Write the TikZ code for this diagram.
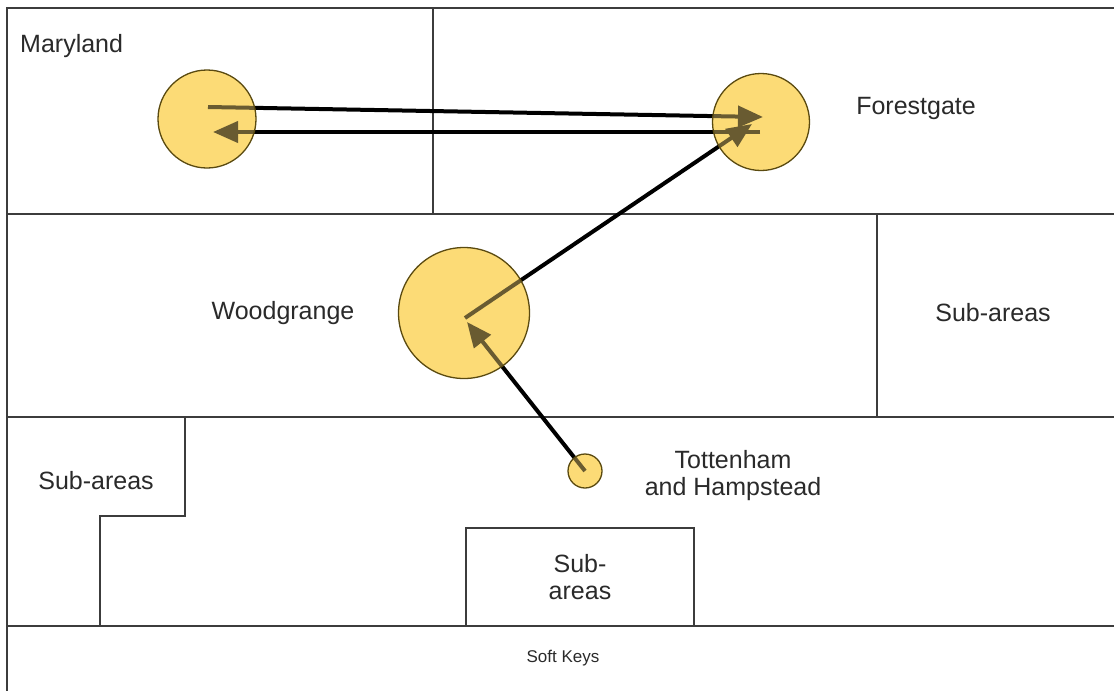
\documentclass[tikz,border=0pt]{standalone}
\usepackage{fontspec}
\setmainfont{Liberation Sans}
\usetikzlibrary{arrows.meta}
\definecolor{lin}{HTML}{3C3C3C}
\definecolor{txt}{HTML}{2A2A2A}
\definecolor{blob}{HTML}{FCDB76}
\definecolor{rim}{HTML}{5A4A10}
\tikzset{
  wall/.style={draw=lin, line width=1.6pt},
  lbl/.style={text=txt, font=\fontsize{25}{30}\selectfont, inner sep=0pt, align=center},
  small/.style={text=txt, font=\fontsize{17}{20}\selectfont, inner sep=0pt},
  blobbase/.style={circle, fill=blob, draw=none, inner sep=0pt},
  blobtop/.style={circle, fill=blob, fill opacity=0.42, draw=rim, draw opacity=1, line width=1.3pt, inner sep=0pt},
  move/.style={line width=4pt, black, -{Triangle[length=25pt,width=21pt]}},
}
\begin{document}
\begin{tikzpicture}[x=1pt,y=-1pt]
\useasboundingbox (0,0) rectangle (1114,691);
\fill[white] (0,0) rectangle (1114,691);
% walls
\draw[wall] (1114,8) -- (7,8) -- (7,691);
\draw[wall] (433,8) -- (433,214);
\draw[wall] (7,214) -- (1114,214);
\draw[wall] (877,214) -- (877,417);
\draw[wall] (7,417) -- (1114,417);
\draw[wall] (185,417) -- (185,516) -- (100,516) -- (100,626);
\draw[wall] (466,626) -- (466,528) -- (694,528) -- (694,626);
\draw[wall] (7,626) -- (1114,626);
% labels
\node[lbl, anchor=base west] (tmary) at (20,52) {Maryland};
\node[lbl] (tforest) at (916,108) {Forestgate};
\node[lbl] (twood) at (283,313) {Woodgrange};
\node[lbl] (tsubr) at (993,313) {Sub-areas};
\node[lbl] (tsubl) at (96,481) {Sub-areas};
\node[lbl] (ttott) at (733,476) {Tottenham\\[-3pt]and Hampstead};
\node[lbl] (tsubm) at (580,577) {Sub-\\[-3pt]areas};
\node[small] (tsoft) at (563,658) {Soft Keys};
% circles (base)
\node[blobbase, minimum size=98pt] (mary) at (207,119) {};
\node[blobbase, minimum size=97pt] (forest) at (761,122) {};
\node[blobbase, minimum size=131pt] (wood) at (464,313) {};
\node[blobbase, minimum size=34pt] (tott) at (585,471) {};
% connectors
\coordinate (m1) at (208,107);
\coordinate (m2) at (213,132);
\coordinate (f1) at (763,117);
\coordinate (f2) at (760,132);
\coordinate (f3) at (752,124);
\coordinate (w1) at (465,318);
\coordinate (w2) at (467,322);
\coordinate (t1) at (585,471);
\draw[move] (m1) -- (f1);
\draw[move] (f2) -- (m2);
\draw[move] (w1) -- (f3);
\draw[move] (t1) -- (w2);
% circles (overlay)
\node[blobtop, minimum size=98pt] at (mary) {};
\node[blobtop, minimum size=97pt] at (forest) {};
\node[blobtop, minimum size=131pt] at (wood) {};
\node[blobtop, minimum size=34pt] at (tott) {};
\end{tikzpicture}
\end{document}
